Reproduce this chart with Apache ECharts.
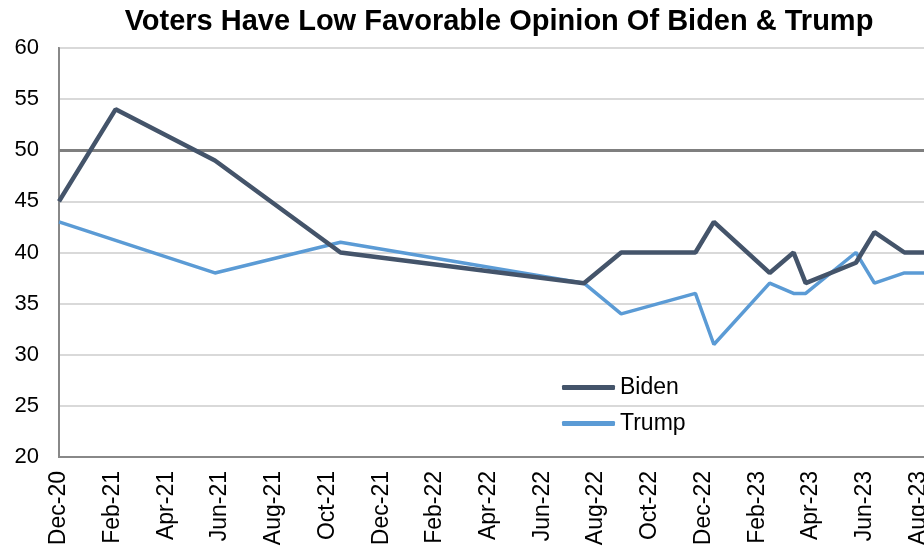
<!DOCTYPE html>
<html>
<head>
<meta charset="utf-8">
<script src="https://cdn.jsdelivr.net/npm/echarts@6/dist/echarts.min.js"></script>
<style>
  html, body { margin: 0; padding: 0; background: #ffffff; }
  #chart { width: 924px; height: 555px; }
</style>
</head>
<body>
<div id="chart"></div>
<script>
// Poll dates and favorability (%) for each candidate
const pollDates = [
  '2020-12-01', '2021-02-04', '2021-05-26', '2021-10-16', '2022-07-18',
  '2022-08-30', '2022-11-22', '2022-12-13', '2023-02-14', '2023-03-12',
  '2023-03-26', '2023-05-22', '2023-06-12', '2023-07-16', '2023-09-10'
];
const biden = [45, 54, 49, 40, 37, 40, 40, 43, 38, 40, 37, 39, 42, 40, 40];
const trump = [43, null, 38, 41, 37, 34, 36, 31, 37, 36, 36, 40, 37, 38, 38];

// Month labels shown every two months, starting Dec-20
const tickLabels = [
  'Dec-20', 'Feb-21', 'Apr-21', 'Jun-21', 'Aug-21', 'Oct-21', 'Dec-21',
  'Feb-22', 'Apr-22', 'Jun-22', 'Aug-22', 'Oct-22', 'Dec-22', 'Feb-23',
  'Apr-23', 'Jun-23', 'Aug-23', 'Oct-23'
];

// Convert a date into fractional months elapsed since 1 Dec 2020
function monthIndex(s) {
  const [y, m, d] = s.split('-').map(Number);
  const days = new Date(y, m, 0).getDate();
  return (y - 2020) * 12 + (m - 12) + (d - 1) / days;
}

function pairs(values) {
  return pollDates.map((d, i) => [monthIndex(d), values[i]]);
}

const font = "'Liberation Sans', Arial, sans-serif";
const chart = echarts.init(document.getElementById('chart'), null, { renderer: 'canvas' });

chart.setOption({
  backgroundColor: '#ffffff',
  animation: false,
  title: {
    text: 'Voters Have Low Favorable Opinion Of Biden & Trump',
    left: 494, top: 2, textAlign: 'center',
    textStyle: { fontFamily: font, fontSize: 29, fontWeight: 'bold', color: '#000000' }
  },
  legend: {
    orient: 'vertical',
    left: 557, top: 371,
    icon: 'roundRect',
    itemWidth: 53, itemHeight: 5, itemGap: 13,
    textStyle: { fontFamily: font, fontSize: 23, color: '#000000' },
    data: ['Biden', 'Trump']
  },
  grid: {
    left: 59, right: -48, top: 48, bottom: 98,
    outerBoundsMode: 'none', containLabel: false,
    show: true, borderColor: '#888888', borderWidth: 2, backgroundColor: 'transparent'
  },
  xAxis: {
    type: 'value',
    min: 0, max: 34, interval: 2,
    axisLine: { show: true, lineStyle: { color: '#888888', width: 2 } },
    axisTick: { show: false },
    splitLine: { show: false },
    axisLabel: {
      rotate: 90, margin: 14,
      fontFamily: font, fontSize: 23, color: '#000000',
      formatter: v => tickLabels[Math.round(v / 2)] || ''
    }
  },
  yAxis: {
    type: 'value',
    min: 20, max: 60, interval: 5,
    axisLine: { show: true, lineStyle: { color: '#888888', width: 2 } },
    axisTick: { show: false },
    splitLine: { show: true, lineStyle: { color: '#d9d9d9', width: 2 } },
    axisLabel: { margin: 20, fontFamily: font, fontSize: 22, color: '#000000' }
  },
  series: [
    {
      name: 'Biden', type: 'line', data: pairs(biden),
      symbol: 'none', connectNulls: true, z: 3,
      lineStyle: { color: '#44546a', width: 4.5 }, itemStyle: { color: '#44546a' },
      markLine: {
        silent: true, symbol: 'none', label: { show: false }, z: 1,
        lineStyle: { color: '#7f7f7f', width: 3, type: 'solid' },
        data: [{ yAxis: 50 }]
      }
    },
    {
      name: 'Trump', type: 'line', data: pairs(trump),
      symbol: 'none', connectNulls: true, z: 2,
      lineStyle: { color: '#5b9bd5', width: 3.5 }, itemStyle: { color: '#5b9bd5' }
    }
  ]
});
</script>
</body>
</html>
